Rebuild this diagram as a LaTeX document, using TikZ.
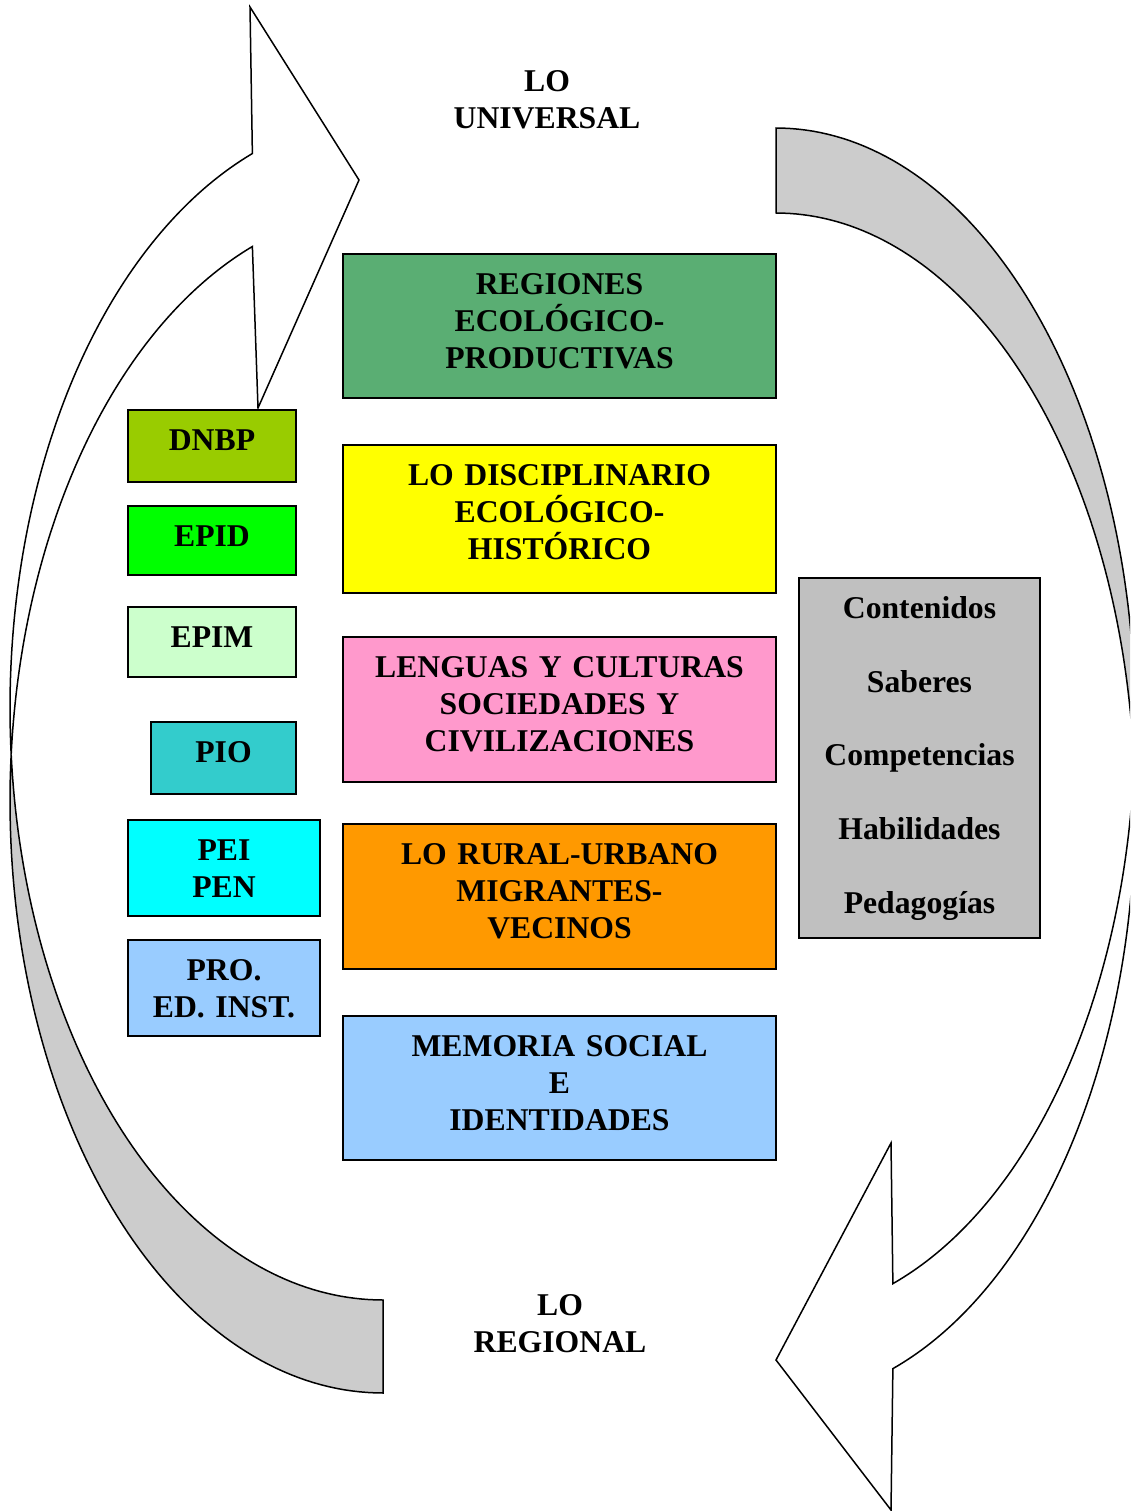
\documentclass[tikz,border=0pt]{standalone}
\usepackage{fontspec}
\setmainfont{Liberation Serif}
\definecolor{cgreen}{RGB}{90,174,115}
\definecolor{cyellow}{RGB}{255,255,0}
\definecolor{cpink}{RGB}{255,153,204}
\definecolor{corange}{RGB}{255,153,0}
\definecolor{cblue}{RGB}{153,204,255}
\definecolor{cgraybox}{RGB}{192,192,192}
\definecolor{cdnbp}{RGB}{153,204,0}
\definecolor{cepid}{RGB}{0,255,0}
\definecolor{cepim}{RGB}{204,255,204}
\definecolor{cpio}{RGB}{51,204,204}
\definecolor{ccyan}{RGB}{0,255,255}
\definecolor{cband}{RGB}{204,204,204}
\begin{document}
\begin{tikzpicture}[x=1pt,y=-1pt,
  shapeline/.style={draw=black, line width=1.5pt, line join=miter},
  box/.style={draw=black, line width=1.8pt, rectangle, anchor=north west, inner sep=0pt, outer sep=0pt},
  lbl/.style={anchor=base, align=center, inner sep=0pt, font=\bfseries\fontsize{31.7}{37}\selectfont},
  lbllist/.style={anchor=base, align=center, inner sep=0pt, font=\bfseries\fontsize{31.7}{73.7}\selectfont}]
\path[use as bounding box] (0,0) rectangle (1130,1511);
\begin{scope}
\clip (0,0) rectangle (1130,1511);
% left curved arrow: white body with arrow head
\filldraw[shapeline, fill=white] (250,7) -- (359,180) -- (258,408)
  -- plot[domain=249.5:184.5, samples=80] ({383+373*cos(\x)},{801+592*sin(\x)})
  -- plot[domain=175.5:249.5, samples=80] ({383+373*cos(\x)},{708+592*sin(\x)})
  -- cycle;
% left curved arrow: gray back band
\filldraw[shapeline, fill=cband]
  plot[domain=184.5:90, samples=80] ({383+373*cos(\x)},{801+592*sin(\x)})
  -- (383,1300)
  -- plot[domain=90:175.5, samples=80] ({383+373*cos(\x)},{708+592*sin(\x)})
  -- cycle;
% right curved arrow: white body with arrow head
\filldraw[shapeline, fill=white] (891,1510) -- (776,1360) -- (891,1143)
  -- plot[domain=71:4.1, samples=80] ({776+359*cos(\x)},{722+594*sin(\x)})
  -- plot[domain=-4.1:71, samples=80] ({776+359*cos(\x)},{807+594*sin(\x)})
  -- cycle;
% right curved arrow: gray back band
\filldraw[shapeline, fill=cband]
  plot[domain=4.1:-90, samples=80] ({776+359*cos(\x)},{722+594*sin(\x)})
  -- (776,213)
  -- plot[domain=-90:-4.1, samples=80] ({776+359*cos(\x)},{807+594*sin(\x)})
  -- cycle;
\end{scope}

% central column
\node[box, fill=cgreen, minimum width=433pt, minimum height=144pt] (breg) at (343,254) {};
\node[box, fill=cyellow, minimum width=433pt, minimum height=148pt] (bdis) at (343,445) {};
\node[box, fill=cpink, minimum width=433pt, minimum height=145pt] (blen) at (343,637) {};
\node[box, fill=corange, minimum width=433pt, minimum height=145pt] (brur) at (343,824) {};
\node[box, fill=cblue, minimum width=433pt, minimum height=144pt] (bmem) at (343,1016) {};
% right gray box
\node[box, fill=cgraybox, minimum width=241pt, minimum height=360pt] (bgray) at (799,578) {};
% left column
\node[box, fill=cdnbp, minimum width=168pt, minimum height=72pt] (bdnbp) at (128,410) {};
\node[box, fill=cepid, minimum width=168pt, minimum height=69pt] (bepid) at (128,506) {};
\node[box, fill=cepim, minimum width=168pt, minimum height=70pt] (bepim) at (128,607) {};
\node[box, fill=cpio, minimum width=145pt, minimum height=72pt] (bpio) at (151,722) {};
\node[box, fill=ccyan, minimum width=192pt, minimum height=96pt] (bpei) at (128,820) {};
\node[box, fill=cblue, minimum width=192pt, minimum height=96pt] (bpro) at (128,940) {};

% texts
\node[lbl, text width=433pt] (treg) at (559.5,294.5) {REGIONES\\ECOLÓGICO-\\PRODUCTIVAS};
\node[lbl, text width=433pt] (tdis) at (559.5,485.5) {LO DISCIPLINARIO\\ECOLÓGICO-\\HISTÓRICO};
\node[lbl, text width=433pt] (tlen) at (559.5,677.5) {LENGUAS Y CULTURAS\\SOCIEDADES Y\\CIVILIZACIONES};
\node[lbl, text width=433pt] (trur) at (559.5,864.5) {LO RURAL-URBANO\\MIGRANTES-\\VECINOS};
\node[lbl, text width=433pt] (tmem) at (559.5,1056.5) {MEMORIA SOCIAL\\E\\IDENTIDADES};
\node[lbllist, text width=241pt] (tgray) at (919.5,618.5) {Contenidos\\Saberes\\Competencias\\Habilidades\\Pedagogías};
\node[lbl, text width=168pt] (tdnbp) at (212,450.5) {DNBP};
\node[lbl, text width=168pt] (tepid) at (212,546.5) {EPID};
\node[lbl, text width=168pt] (tepim) at (212,647.5) {EPIM};
\node[lbl, text width=145pt] (tpio) at (223.5,762.5) {PIO};
\node[lbl, text width=192pt] (tpei) at (224,860.5) {PEI\\PEN};
\node[lbl, text width=192pt] (tpro) at (224,980.5) {PRO.\\ED. INST.};
\node[lbl, text width=300pt] (tuni) at (547,91.5) {LO\\UNIVERSAL};
\node[lbl, text width=300pt] (treg2) at (560,1315.5) {LO\\REGIONAL};
\end{tikzpicture}
\end{document}
